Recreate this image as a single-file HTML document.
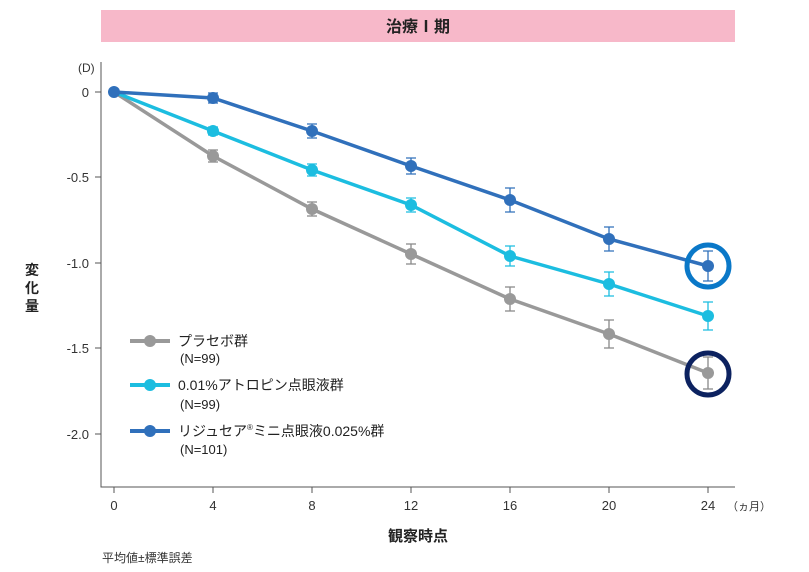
<!DOCTYPE html><html><head><meta charset="utf-8"><style>body{margin:0;background:#fff}svg{display:block;font-family:"Liberation Sans","Noto Sans CJK JP",sans-serif}</style></head><body>
<svg width="809" height="572" xmlns="http://www.w3.org/2000/svg">
<rect x="101" y="10" width="634" height="32" fill="#f7b8c9"/>
<text x="418" y="32" font-size="16" font-weight="bold" text-anchor="middle" fill="#222">治療Ⅰ期</text>
<g stroke="#555" stroke-width="1" fill="none"><path d="M101 62V487H735"/>
<path d="M95 92H101M95 177H101M95 263H101M95 348H101M95 434H101"/>
<path d="M114 487V493M213 487V493M312 487V493M411 487V493M510 487V493M609 487V493M708 487V493"/></g>
<g font-size="13" fill="#333" text-anchor="end"><text x="89" y="97">0</text><text x="89" y="182">-0.5</text><text x="89" y="268">-1.0</text><text x="89" y="353">-1.5</text><text x="89" y="439">-2.0</text></g>
<text x="78" y="72" font-size="12" fill="#333">(D)</text>
<g font-size="13" fill="#333" text-anchor="middle"><text x="114" y="510">0</text><text x="213" y="510">4</text><text x="312" y="510">8</text><text x="411" y="510">12</text><text x="510" y="510">16</text><text x="609" y="510">20</text><text x="708" y="510">24</text></g>
<text x="727" y="510" font-size="11" fill="#333">（ヵ月）</text>
<text x="418" y="541" font-size="15" font-weight="bold" text-anchor="middle" fill="#222">観察時点</text>
<text x="102" y="562" font-size="12" fill="#333">平均値±標準誤差</text>
<g font-size="14" font-weight="bold" fill="#222" text-anchor="middle"><text x="32" y="275">変</text><text x="32" y="293">化</text><text x="32" y="311">量</text></g>
<g stroke-width="1.3">
<g stroke="#888"><path d="M213 150V162M208 150H218M208 162H218M312 202V216M307 202H317M307 216H317M411 244V264M406 244H416M406 264H416M510 287V311M505 287H515M505 311H515M609 320V348M604 320H614M604 348H614M708 357V389M703 357H713M703 389H713"/></g>
<g stroke="#1cbde0"><path d="M213 127V135M208 127H218M208 135H218M312 164V176M307 164H317M307 176H317M411 198V212M406 198H416M406 212H416M510 246V266M505 246H515M505 266H515M609 272V296M604 272H614M604 296H614M708 302V330M703 302H713M703 330H713"/></g>
<g stroke="#3070bb"><path d="M213 93V103M208 93H218M208 103H218M312 124V138M307 124H317M307 138H317M411 158V174M406 158H416M406 174H416M510 188V212M505 188H515M505 212H515M609 227V251M604 227H614M604 251H614M708 251V281M703 251H713M703 281H713"/></g>
</g>
<polyline points="114,92 213,156 312,209 411,254 510,299 609,334 708,373" fill="none" stroke="#999" stroke-width="3.5"/>
<polyline points="114,92 213,131 312,170 411,205 510,256 609,284 708,316" fill="none" stroke="#1cbde0" stroke-width="3.5"/>
<polyline points="114,92 213,98 312,131 411,166 510,200 609,239 708,266" fill="none" stroke="#3070bb" stroke-width="3.5"/>
<g fill="#999"><circle cx="213" cy="156" r="6"/><circle cx="312" cy="209" r="6"/><circle cx="411" cy="254" r="6"/><circle cx="510" cy="299" r="6"/><circle cx="609" cy="334" r="6"/><circle cx="708" cy="373" r="6"/></g>
<g fill="#1cbde0"><circle cx="213" cy="131" r="6"/><circle cx="312" cy="170" r="6"/><circle cx="411" cy="205" r="6"/><circle cx="510" cy="256" r="6"/><circle cx="609" cy="284" r="6"/><circle cx="708" cy="316" r="6"/></g>
<g fill="#3070bb"><circle cx="114" cy="92" r="6"/><circle cx="213" cy="98" r="6"/><circle cx="312" cy="131" r="6"/><circle cx="411" cy="166" r="6"/><circle cx="510" cy="200" r="6"/><circle cx="609" cy="239" r="6"/><circle cx="708" cy="266" r="6"/></g>
<circle cx="708" cy="266" r="21" fill="none" stroke="#0a78c8" stroke-width="5"/>
<circle cx="708" cy="374" r="21" fill="none" stroke="#0c2260" stroke-width="5"/>
<g stroke-width="4"><path d="M130 341H170" stroke="#999"/><path d="M130 385H170" stroke="#1cbde0"/><path d="M130 431H170" stroke="#3070bb"/></g>
<circle cx="150" cy="341" r="6" fill="#999"/><circle cx="150" cy="385" r="6" fill="#1cbde0"/><circle cx="150" cy="431" r="6" fill="#3070bb"/>
<g font-size="14" fill="#222"><text x="178" y="346">プラセボ群</text><text x="178" y="390">0.01%アトロピン点眼液群</text><text x="178" y="436">リジュセア<tspan font-size="8" dy="-6">®</tspan><tspan dy="6">ミニ点眼液0.025%群</tspan></text></g>
<g font-size="13" fill="#222"><text x="180" y="363">(N=99)</text><text x="180" y="409">(N=99)</text><text x="180" y="454">(N=101)</text></g>
</svg></body></html>
